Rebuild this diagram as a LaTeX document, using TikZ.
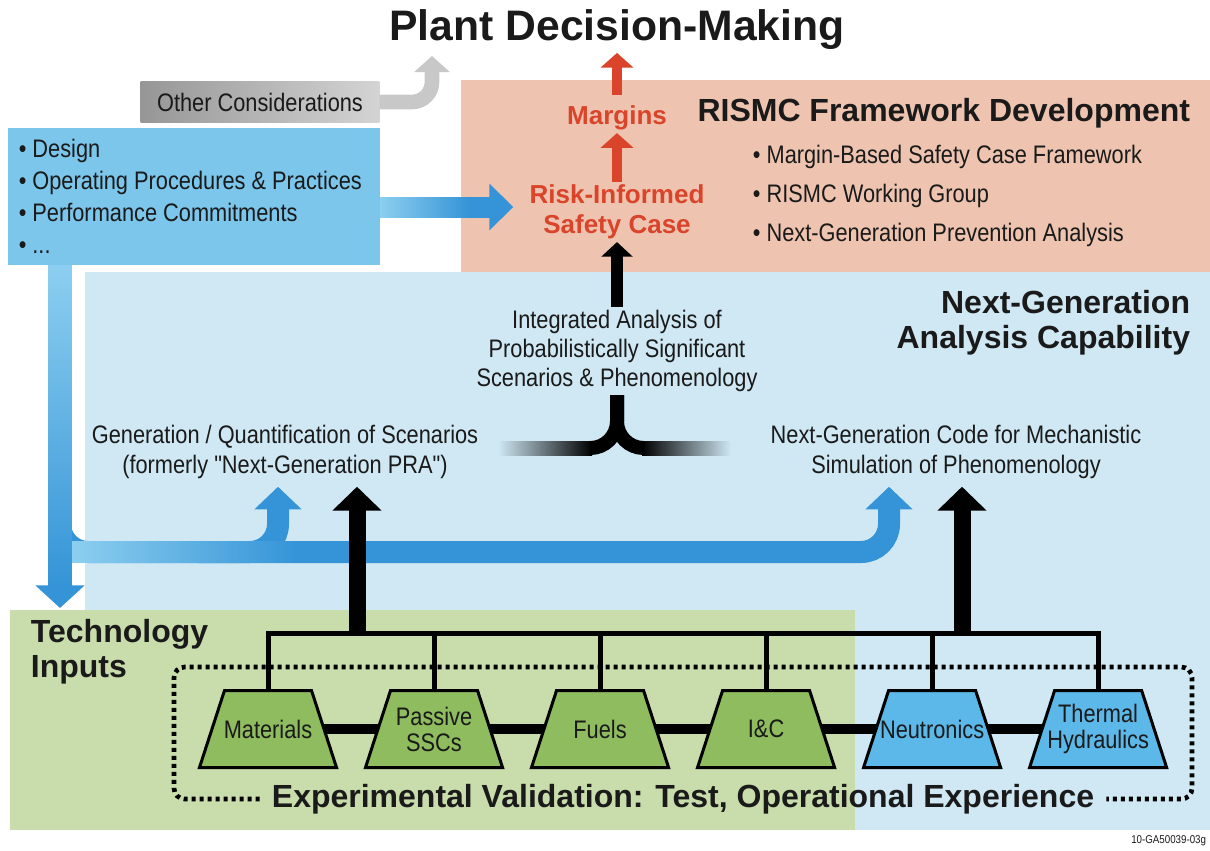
\documentclass[tikz,border=0pt]{standalone}
\usepackage{fontspec}
\setmainfont{Liberation Sans}
\newfontfamily\narrowfont[FakeStretch=0.86]{Liberation Sans}
\usepackage{tikz}
\usetikzlibrary{positioning,arrows.meta,shapes.geometric,fadings}

\definecolor{salmonbg}{HTML}{EEC4B0}
\definecolor{skybg}{HTML}{CFE8F4}
\definecolor{greenbg}{HTML}{C9DCAB}
\definecolor{listblue}{HTML}{7CC6EB}
\definecolor{bandblue}{HTML}{3494D7}
\definecolor{lightband}{HTML}{8DCFF0}
\definecolor{trapgreen}{HTML}{8FBC5F}
\definecolor{trapblue}{HTML}{5CB8E8}
\definecolor{redink}{HTML}{D9442A}
\definecolor{inkblack}{HTML}{1A1A1A}
\definecolor{grayL}{HTML}{969696}
\definecolor{grayR}{HTML}{D4D4D4}
\definecolor{arrowgray}{HTML}{C8C8C8}

\begin{document}
\begin{tikzpicture}[
        x=0.75pt, y=-0.75pt,
        every node/.style={inner sep=2pt, text=inkblack},
        body/.style={
            font=\narrowfont\fontsize{19}{22}\selectfont,
            align=center
        },
        headline/.style={
            font=\bfseries\fontsize{24}{26}\selectfont
        },
        redlabel/.style={
            font=\bfseries\fontsize{19.5}{22.5}\selectfont,
            text=redink,
            align=center
        },
        graybox/.style={
            body,
            left color=grayL,
            right color=grayR,
            minimum width=179pt,
            minimum height=30.75pt
        },
        listbox/.style={
            fill=listblue,
            font=\narrowfont\fontsize{19}{24}\selectfont,
            align=flush left,
            text width=263.25pt,
            minimum width=279pt,
            minimum height=102.75pt,
            inner sep=0pt
        },
        trap/.style={
            trapezium,
            trapezium angle=72,
            draw=black,
            line width=2.25pt,
            text width=65.25pt,
            text height=28.875pt,
            text depth=28.875pt,
            inner sep=0pt,
            outer sep=0pt
        },
        traplabel/.style={
            font=\narrowfont\fontsize{19}{19.5}\selectfont,
            align=center,
            inner sep=0pt
        },
        link/.style={line width=7.5pt},
        busline/.style={line width=3.75pt},
        bigarrow/.style={line width=12.75pt, shorten >=4pt, -{Triangle[width=36pt, length=18pt]}},
        midarrow/.style={line width=9pt, -{Triangle[width=23pt, length=11pt]}},
        redarrow/.style={draw=redink, line width=8pt, -{Triangle[width=24pt, length=11pt]}},
        grayarrow/.style={draw=arrowgray, line width=11pt, -{Triangle[width=26pt, length=12pt]}},
        band/.style={draw=bandblue, line width=16.5pt, shorten >=4pt, -{Triangle[width=34.5pt, length=17pt]}},
        feedarrow/.style={draw=bandblue, line width=15.75pt, -{Triangle[width=34pt, length=18pt]}},
        downbar/.style={draw=bandblue, line width=18pt, -{Triangle[width=36pt, length=17pt]}},
        ystem/.style={line width=10.5pt},
        dotbox/.style={line width=3.5pt, dash pattern=on 3pt off 3pt, rounded corners=8pt}
    ]
    \useasboundingbox (0,0) rectangle (1210,850);

    % background regions
    \fill[salmonbg] (461,80) rectangle (1210,272);
    \fill[skybg] (85,272) rectangle (1210,830);
    \fill[greenbg] (10,610) rectangle (855,830);

    % text
    \node[font=\bfseries\fontsize{32}{36}\selectfont] (title) at (617,30) {Plant Decision-Making};
    \node[graybox] (othercons) at (260,102) {Other Considerations};
    \node[listbox, anchor=north west] (listbox) at (8,128)
        {\textbullet\ Design\\ \textbullet\ Operating Procedures \& Practices\\ \textbullet\ Performance Commitments\\ \textbullet\ ...};
    \node[redlabel] (margins)  at (617,118) {Margins};
    \node[redlabel] (riskcase) at (617,212) {Risk-Informed\\Safety Case};
    \node[headline, anchor=east] (rismchead) at (1193,113) {RISMC Framework Development};
    \node[body, align=left, anchor=west, font=\narrowfont\fontsize{19}{29}\selectfont] (rismcitems) at (750,196)
        {\textbullet\ Margin-Based Safety Case Framework\\ \textbullet\ RISMC Working Group\\ \textbullet\ Next-Generation Prevention Analysis};
    \node[headline, align=right, anchor=east] (nextgen) at (1193,323) {Next-Generation\\Analysis Capability};
    \node[body] (integ) at (617,351) {Integrated Analysis of\\Probabilistically Significant\\Scenarios \& Phenomenology};
    \node[body] (gen)   at (285,452) {Generation / Quantification of Scenarios\\(formerly "Next-Generation PRA")};
    \node[body] (code)  at (956,452) {Next-Generation Code for Mechanistic\\Simulation of Phenomenology};
    \node[headline, align=left, anchor=west] (techin) at (28,652) {Technology\\Inputs};
    \node[headline, inner xsep=9pt] (expval) at (683,799) {Experimental Validation: Test, Operational Experience};
    \node[anchor=south east, font=\narrowfont\fontsize{8.5}{9}\selectfont] (docid) at (1209,849) {10-GA50039-03g};

    % other considerations
    \coordinate (otherTip) at (432,56);
    \draw[grayarrow, rounded corners=15pt] (othercons.east) -| (otherTip);

    % inputs to safety case
    \coordinate (feedY) at ([yshift=3.75pt]riskcase.west);
    \draw[feedarrow, shorten >=10pt] (listbox.east |- feedY) -- (feedY);
    \fill[lightband, path fading=east] (380,197) rectangle (470,218);

    % blue branches
    \coordinate (split)   at (60,552);
    \coordinate (brA)     at (278,552);
    \coordinate (brB)     at (889,552);
    \coordinate (downTip) at (60,608);
    \draw[band, rounded corners=21pt] ([yshift=24pt]split) |- (brB) -- (brB |- code.south);
    \draw[band, rounded corners=21pt] ([xshift=-60pt]brA) -| (brA |- gen.south);
    \fill[lightband, path fading=east] (72,541) rectangle (300,563);
    \draw[downbar] (listbox.south -| downTip) -- (downTip);
    \fill[lightband, path fading=south] (48,265) rectangle (72,590);

    % merge of the two analyses
    \shade[left color=skybg, right color=black] (498,441) rectangle (592,455);
    \shade[left color=black, right color=skybg] (642,441) rectangle (731,455);
    \draw[ystem, rounded corners=20pt] (integ.south) |- (590,448);
    \draw[ystem, rounded corners=20pt] (integ.south) |- (644,448);
    \draw[midarrow] (integ.north) -- (riskcase.south);
    \draw[redarrow] (riskcase.north) -- (margins.south);
    \draw[redarrow, shorten <=6pt] (margins.north) -- (title.south);

    % experimental validation
    \coordinate (dotTL) at (174,667);
    \coordinate (dotBR) at (1192,799);
    \draw[dotbox] (expval.west) -| (dotTL) -| (dotBR) -- (expval.east);

    \node[trap, fill=trapgreen, label={[traplabel]center:Materials}]           (mat)                       at (268,729) {};
    \node[trap, fill=trapgreen, label={[traplabel]center:{Passive\\SSCs}}]     (pass)    [right=40.5pt of mat]   {};
    \node[trap, fill=trapgreen, label={[traplabel]center:Fuels}]               (fuel)    [right=40.5pt of pass]  {};
    \node[trap, fill=trapgreen, label={[traplabel]center:I\&C}]                (ic)      [right=40.5pt of fuel]  {};
    \node[trap, fill=trapblue,  label={[traplabel]center:Neutronics}]          (neutr)   [right=40.5pt of ic]    {};
    \node[trap, fill=trapblue,  label={[traplabel]center:{Thermal\\Hydraulics}}] (thermal) [right=40.5pt of neutr] {};

    \foreach \a/\b in {mat/pass, pass/fuel, fuel/ic, ic/neutr, neutr/thermal}
        \draw[link] (\a.east) -- (\b.west);

    \coordinate (busA) at (357,633);
    \coordinate (busB) at (962,633);
    \draw[busline] (mat.north) |- (busA) -| (thermal.north);
    \foreach \n in {pass, fuel, ic, neutr}
        \draw[busline] (\n.north) -- (\n.north |- busA);
    \draw[bigarrow] (busA) -- (busA |- gen.south);
    \draw[bigarrow] (busB) -- (busB |- code.south);
\end{tikzpicture}
\end{document}
